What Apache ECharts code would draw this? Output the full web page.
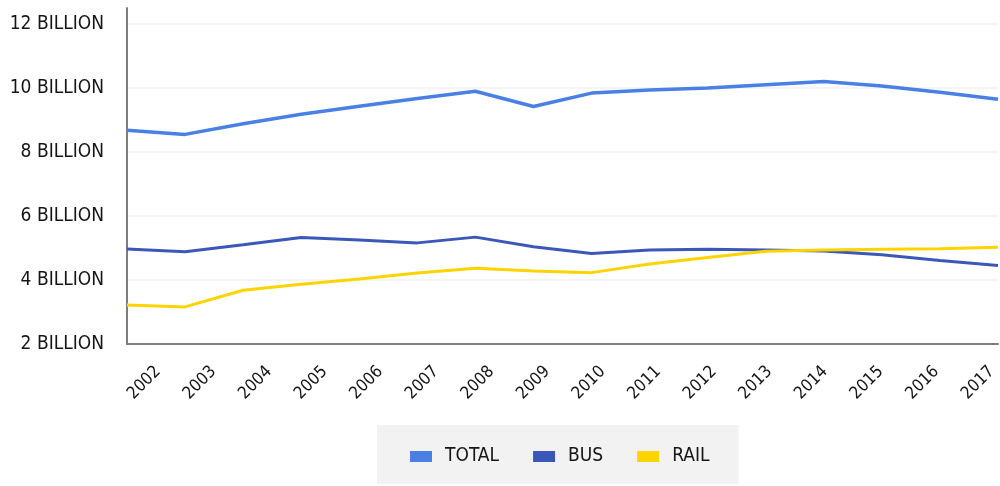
<!DOCTYPE html>
<html>
<head>
<meta charset="utf-8">
<script src="https://cdn.jsdelivr.net/npm/echarts@6/dist/echarts.min.js"></script>
<style>
  html, body { margin: 0; padding: 0; background: #ffffff; }
  #chart { width: 1000px; height: 486px; }
</style>
</head>
<body>
<div id="chart"></div>
<script>
// Annual ridership, in billions of trips
const years = ['2002', '2003', '2004', '2005', '2006', '2007', '2008', '2009',
               '2010', '2011', '2012', '2013', '2014', '2015', '2016', '2017'];
const total = [8.68, 8.55, 8.88, 9.18, 9.43, 9.67, 9.9, 9.42,
               9.84, 9.94, 10.0, 10.1, 10.2, 10.06, 9.87, 9.65];
const bus   = [4.97, 4.88, 5.1, 5.33, 5.25, 5.16, 5.34, 5.04,
               4.83, 4.94, 4.96, 4.94, 4.91, 4.79, 4.61, 4.45];
const rail  = [3.22, 3.16, 3.68, 3.87, 4.03, 4.22, 4.37, 4.28,
               4.23, 4.5, 4.7, 4.9, 4.94, 4.96, 4.98, 5.02];
const yTicks = [2, 4, 6, 8, 10, 12];

const FONT = "'DejaVu Sans Condensed', 'Liberation Sans Narrow', 'Roboto', sans-serif";
const TEXT = '#151515';

const chart = echarts.init(document.getElementById('chart'), null, { renderer: 'canvas' });

// one faint rule per labelled tick, nothing at the padded top end
const gridColors = yTicks.map(() => '#f1f1f1').concat(['rgba(0,0,0,0)']);

chart.setOption({
  backgroundColor: '#ffffff',
  animation: false,
  textStyle: { fontFamily: FONT },
  grid: [
    { left: 127, right: 2, top: 8, bottom: 142 },
    // year labels sit on a slightly offset band under the diagonal
    { left: 158, right: 7, top: 8, bottom: 142 }
  ],
  xAxis: [
    {
      type: 'category', gridIndex: 0, data: years, boundaryGap: false,
      axisLine: { show: true, lineStyle: { color: '#7d7d7d', width: 2 } },
      axisTick: { show: false },
      axisLabel: { show: false },
      splitLine: { show: false }
    },
    {
      type: 'category', gridIndex: 1, data: years, boundaryGap: false,
      axisLine: { show: false }, axisTick: { show: false },
      axisLabel: {
        rotate: 45, margin: 25, interval: 0,
        fontFamily: FONT, fontSize: 17, color: TEXT
      },
      splitLine: { show: false }
    }
  ],
  yAxis: [
    {
      type: 'value', gridIndex: 0, min: 2, max: 12.5, interval: 2,
      axisLine: { show: true, lineStyle: { color: '#7d7d7d', width: 2 } },
      axisTick: { show: false },
      axisLabel: {
        margin: 23, showMaxLabel: false,
        fontFamily: FONT, fontSize: 19, color: TEXT,
        formatter: v => v + ' BILLION'
      },
      splitLine: { show: true, lineStyle: { color: gridColors, width: 1.5 } }
    },
    { type: 'value', gridIndex: 1, show: false, min: 2, max: 12.5 }
  ],
  legend: {
    left: 377, top: 425,
    padding: [22, 29, 18, 33],
    backgroundColor: '#f2f2f2',
    itemWidth: 22, itemHeight: 11, itemGap: 34,
    icon: 'rect',
    textStyle: { fontFamily: FONT, fontSize: 19, color: TEXT, padding: [0, 0, 0, 8] },
    data: ['TOTAL', 'BUS', 'RAIL']
  },
  series: [
    {
      name: 'TOTAL', type: 'line', data: total, symbol: 'none',
      lineStyle: { color: '#4a80e4', width: 3.5 }, itemStyle: { color: '#4a80e4' }
    },
    {
      name: 'BUS', type: 'line', data: bus, symbol: 'none',
      lineStyle: { color: '#3a58b8', width: 3 }, itemStyle: { color: '#3a58b8' }
    },
    {
      name: 'RAIL', type: 'line', data: rail, symbol: 'none',
      lineStyle: { color: '#fdd400', width: 3 }, itemStyle: { color: '#fdd400' }
    }
  ]
});
</script>
</body>
</html>
